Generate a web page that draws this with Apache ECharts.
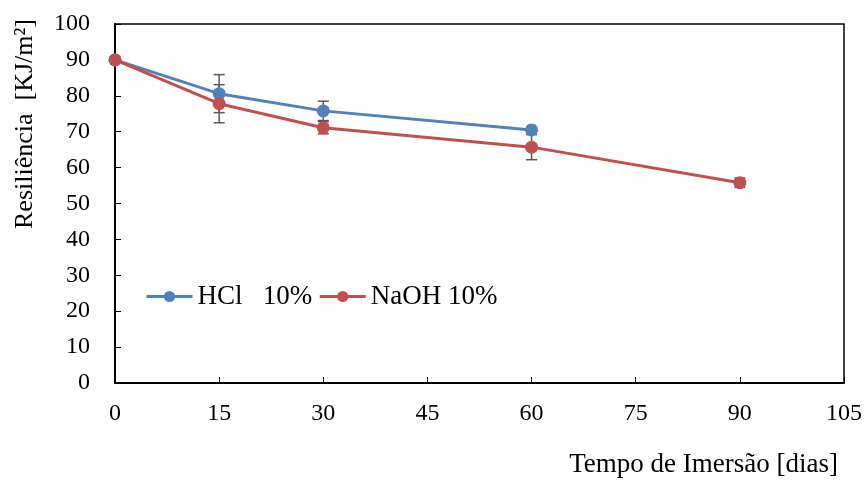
<!DOCTYPE html>
<html lang="pt">
<head>
    <meta charset="UTF-8">
    <title>Resiliência</title>
    <script src="https://cdn.jsdelivr.net/npm/echarts@6/dist/echarts.min.js"></script>
    <style type="text/css">
        html, body { margin: 0; padding: 0; background: #fff; }
        #main { width: 866px; height: 480px; }
    </style>
</head>
<body>
    <div id="main"></div>
    <script type="text/javascript">
    // dados
    var diasHCl = [0, 15, 30, 60];
    var hcl = [90.0, 80.6, 75.8, 70.5];
    var errHCl = [0.5, 5.3, 2.7, 0.5];

    var diasNaOH = [0, 15, 30, 60, 90];
    var naoh = [90.0, 77.8, 71.1, 65.7, 55.8];
    var errNaOH = [0.5, 5.3, 1.7, 3.5, 1.3];

    var xTicks = [0, 15, 30, 45, 60, 75, 90, 105];
    var yTicks = [0, 10, 20, 30, 40, 50, 60, 70, 80, 90, 100];

    var fonte = '"Liberation Serif", "Times New Roman", serif';

    function pares(xs, ys) {
        return xs.map(function (x, i) { return [x, ys[i]]; });
    }

    function barras(xs, ys, es) {
        return xs.map(function (x, i) { return [x, ys[i] - es[i], ys[i] + es[i]]; });
    }

    // barra de erro desenhada com as escalas do próprio eixo
    function desenhaErro(params, api) {
        var baixo = api.coord([api.value(0), api.value(1)]);
        var alto = api.coord([api.value(0), api.value(2)]);
        var w = 5.5;
        var estilo = { stroke: '#595959', lineWidth: 1.5 };
        return {
            type: 'group',
            children: [
                { type: 'line', shape: { x1: alto[0], y1: alto[1], x2: baixo[0], y2: baixo[1] }, style: estilo },
                { type: 'line', shape: { x1: alto[0] - w, y1: alto[1], x2: alto[0] + w, y2: alto[1] }, style: estilo },
                { type: 'line', shape: { x1: baixo[0] - w, y1: baixo[1], x2: baixo[0] + w, y2: baixo[1] }, style: estilo }
            ]
        };
    }

    var myChart = echarts.init(document.getElementById('main'));

    var option = {
        animation: false,
        grid: {
            left: 115, right: 22, top: 24, bottom: 97,
            show: true, borderColor: '#000', borderWidth: 1.5
        },
        legend: {
            left: 140, top: 278,
            itemWidth: 46, itemHeight: 14, itemGap: 6,
            data: ['HCl   10%', 'NaOH 10%'],
            lineStyle: { width: 3 },
            textStyle: { fontFamily: fonte, fontSize: 27, color: '#000' }
        },
        xAxis: {
            type: 'value', min: xTicks[0], max: xTicks[xTicks.length - 1], interval: 15,
            axisLine: { lineStyle: { color: '#000', width: 2 } },
            axisTick: { inside: true, length: 6, lineStyle: { color: '#000', width: 1 } },
            axisLabel: { fontFamily: fonte, fontSize: 24, color: '#000', margin: 19 },
            splitLine: { show: false }
        },
        yAxis: {
            type: 'value', min: yTicks[0], max: yTicks[yTicks.length - 1], interval: 10,
            axisLine: { show: true, lineStyle: { color: '#000', width: 2 } },
            axisTick: { show: true, inside: true, length: 6, lineStyle: { color: '#000', width: 1 } },
            axisLabel: { fontFamily: fonte, fontSize: 24, color: '#000', margin: 25 },
            splitLine: { show: false }
        },
        graphic: [
            {
                type: 'text', x: 25, y: 124, rotation: Math.PI / 2,
                style: {
                    text: 'Resiliência  [KJ/m²]', fontFamily: fonte, fontSize: 26, fill: '#000',
                    align: 'center', verticalAlign: 'middle'
                }
            },
            {
                type: 'text', x: 838, y: 465,
                style: {
                    text: 'Tempo de Imersão [dias]', fontFamily: fonte, fontSize: 27, fill: '#000',
                    align: 'right', verticalAlign: 'middle'
                }
            }
        ],
        series: [
            {
                name: 'errHCl', type: 'custom', renderItem: desenhaErro, z: 1,
                data: barras(diasHCl, hcl, errHCl), silent: true
            },
            {
                name: 'errNaOH', type: 'custom', renderItem: desenhaErro, z: 1,
                data: barras(diasNaOH, naoh, errNaOH), silent: true
            },
            {
                name: 'HCl   10%', type: 'line', z: 3,
                data: pares(diasHCl, hcl),
                symbol: 'circle', symbolSize: 13,
                lineStyle: { color: '#4F81BD', width: 3 },
                itemStyle: { color: '#4F81BD' }
            },
            {
                name: 'NaOH 10%', type: 'line', z: 4,
                data: pares(diasNaOH, naoh),
                symbol: 'circle', symbolSize: 13,
                lineStyle: { color: '#C0504D', width: 3 },
                itemStyle: { color: '#C0504D' }
            }
        ]
    };

    myChart.setOption(option);
    </script>
</body>
</html>
